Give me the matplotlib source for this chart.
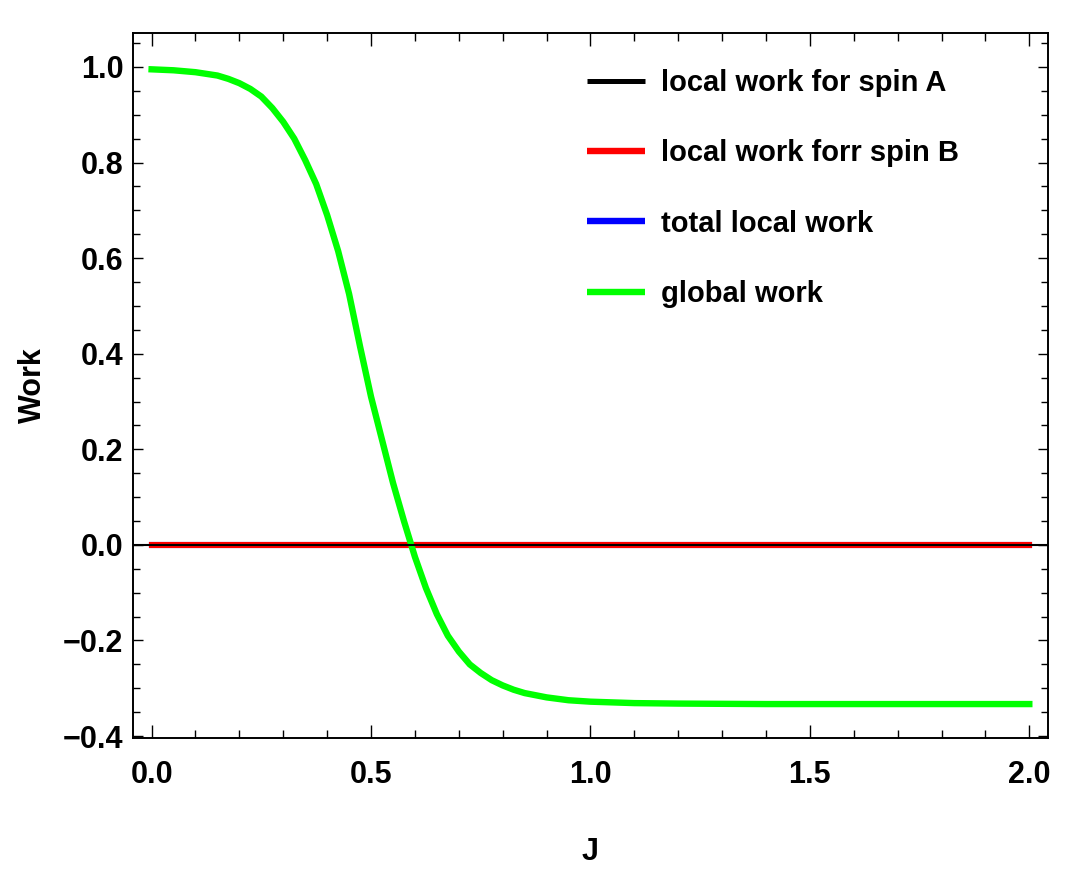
import matplotlib
matplotlib.use("Agg")
import matplotlib.pyplot as plt
from matplotlib.ticker import MultipleLocator

plt.rcParams['font.family'] = ['Liberation Sans Narrow', 'Liberation Sans', 'DejaVu Sans']
plt.rcParams['font.weight'] = 'bold'

# data
J = [0.0, 0.05, 0.1, 0.15, 0.175, 0.2, 0.225, 0.25, 0.275, 0.3, 0.325, 0.35,
     0.375, 0.4, 0.425, 0.45, 0.475, 0.5, 0.525, 0.55, 0.575, 0.6, 0.625,
     0.65, 0.675, 0.7, 0.725, 0.75, 0.775, 0.8, 0.825, 0.85, 0.9, 0.95, 1.0,
     1.1, 1.2, 1.4, 1.6, 1.8, 2.0]
global_work = [0.995, 0.993, 0.989, 0.982, 0.975, 0.966, 0.954, 0.938, 0.914,
               0.885, 0.850, 0.805, 0.755, 0.690, 0.615, 0.525, 0.415, 0.310,
               0.220, 0.130, 0.050, -0.025, -0.090, -0.145, -0.190, -0.223,
               -0.250, -0.268, -0.283, -0.294, -0.303, -0.310, -0.319, -0.325,
               -0.328, -0.331, -0.332, -0.333, -0.333, -0.333, -0.333]
J_flat = [0.0, 2.0]
local_A = [0.0, 0.0]
local_B = [0.0, 0.0]
total_local = [0.0, 0.0]

labels = ["local work for spin A", "local work forr spin B",
          "total local work", "global work"]

fig = plt.figure(figsize=(10.74, 8.81), dpi=100)
ax = fig.add_axes([133/1074, 1-738/881, 915/1074, 705/881])

lA, = ax.plot(J_flat, local_A, color='black', lw=3.6, solid_capstyle='projecting', zorder=3, label=labels[0])
lT, = ax.plot(J_flat, total_local, color='#0000ff', lw=4.4, solid_capstyle='projecting', zorder=2, label=labels[2])
lB, = ax.plot(J_flat, local_B, color='#ff0000', lw=4.4, solid_capstyle='projecting', zorder=4, label=labels[1])
lG, = ax.plot(J, global_work, color='#00ff00', lw=4.6, solid_capstyle='projecting',
              solid_joinstyle='round', zorder=5, label=labels[3])
ax.axhline(0, color='black', lw=1.5, zorder=6)

ax.set_xlim(-0.0424, 2.0426)
ax.set_ylim(-0.404, 1.071)

ax.xaxis.set_major_locator(MultipleLocator(0.5))
ax.xaxis.set_minor_locator(MultipleLocator(0.1))
ax.yaxis.set_major_locator(MultipleLocator(0.2))
ax.yaxis.set_minor_locator(MultipleLocator(0.05))
ax.set_xticks([0.0, 0.5, 1.0, 1.5, 2.0])
ax.set_xticklabels(["0.0", "0.5", "1.0", "1.5", "2.0"])
ax.set_yticks([-0.4, -0.2, 0.0, 0.2, 0.4, 0.6, 0.8, 1.0])
ax.set_yticklabels(["\u22120.4", "\u22120.2", "0.0", "0.2", "0.4", "0.6", "0.8", "1.0"])

ax.tick_params(axis='both', which='both', direction='in', top=True, right=True, width=1.0, color='black')
ax.tick_params(axis='x', which='major', length=9.1, pad=15.5, labelsize=22)
ax.tick_params(axis='x', which='minor', length=5.5)
ax.tick_params(axis='y', which='major', length=7.2, pad=7, labelsize=22)
ax.tick_params(axis='y', which='minor', length=4.7)
for s in ax.spines.values():
    s.set_linewidth(1.4)

ax.set_xlabel("J", fontsize=22, fontweight='bold', labelpad=34)
ax.set_ylabel("Work", fontsize=22, fontweight='bold', labelpad=11)

leg = ax.legend([lA, lB, lT, lG], labels, loc='upper left', bbox_to_anchor=(0.496, 0.949),
                frameon=False, fontsize=21, handlelength=2.0, handletextpad=0.55,
                labelspacing=1.45, borderpad=0, borderaxespad=0)
for h, w in zip(leg.get_lines(), [3.6, 4.6, 4.6, 4.6]):
    h.set_linewidth(w)
    h.set_solid_capstyle('butt')

fig.savefig("out.png", dpi=100)
